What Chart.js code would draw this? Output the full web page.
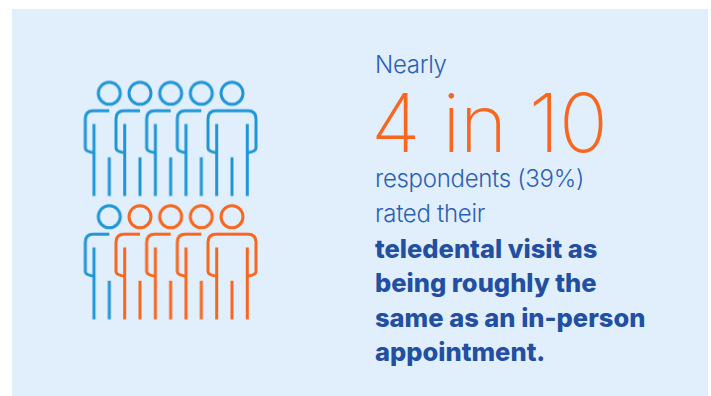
<!DOCTYPE html>
<html>
<head>
<meta charset="utf-8">
<script src="https://cdn.jsdelivr.net/npm/chart.js@4"></script>
<style>
  html, body { margin: 0; padding: 0; background: #fff; }
  #panel { position: absolute; left: 12px; top: 9px; width: 696px; height: 387px; background: #e0effb; }
  #icons { position: absolute; left: 70px; top: 70px; width: 200px; height: 260px; }
  .line { position: absolute; left: 375px; white-space: nowrap; font-family: "Inter", sans-serif; }
  .light { font-size: 24px; font-weight: 300; line-height: 24px; color: #2f5fb3; letter-spacing: -0.3px; }
  .big { font-size: 81px; font-weight: 200; line-height: 62px; color: #f7671f; letter-spacing: -0.6px; margin-left: -4px; }
  .bold { font-size: 25.5px; font-weight: 800; line-height: 28px; color: #234fa2; letter-spacing: 0; }
</style>
</head>
<body>
<div id="panel"></div>
<div class="line light" style="top:53px">Nearly</div>
<div class="line big" style="top:92px">4 in 10</div>
<div class="line light" style="top:167px">respondents (39%)</div>
<div class="line light" style="top:202px">rated their</div>
<div class="line bold" style="top:235px">teledental visit as</div>
<div class="line bold" style="top:269px">being roughly the</div>
<div class="line bold" style="top:304px">same as an in-person</div>
<div class="line bold" style="top:338px">appointment.</div>
<div id="icons"><canvas id="chart"></canvas></div>
<script>
// Each person sits on a column (1-5) and a row (2 = top, 1 = bottom)
const otherCols = [1, 2, 3, 4, 5, 1]
const otherRows = [2, 2, 2, 2, 2, 1]
const sameCols = [2, 3, 4, 5]
const sameRows = [1, 1, 1, 1]

const BLUE = "#2196d6"
const ORANGE = "#f7671f"
const LAST_COL = 5

// Person glyph, drawn around the middle of a small canvas.
// People overlap, so only the last in a row gets the right-hand side.
function personIcon(color, full) {
  const c = document.createElement("canvas")
  c.width = 64
  c.height = 124
  const g = c.getContext("2d")
  g.translate(32, 62)
  g.strokeStyle = color
  g.lineWidth = 3
  g.lineCap = "butt"

  g.beginPath()
  g.arc(0, -45.2, 11, 0, Math.PI * 2)
  g.stroke()

  const shoulder = -27.8, armEnd = 9.5, armTuck = 14.2, edge = 24, inner = 15.3, r = 8

  g.beginPath()
  g.moveTo(-inner, armTuck)
  g.quadraticCurveTo(-edge, armTuck - 1, -edge, armEnd)
  g.lineTo(-edge, shoulder + r)
  g.quadraticCurveTo(-edge, shoulder, -edge + r, shoulder)
  if (full) {
    g.lineTo(edge - r, shoulder)
    g.quadraticCurveTo(edge, shoulder, edge, shoulder + r)
    g.lineTo(edge, armEnd)
    g.quadraticCurveTo(edge, armTuck - 1, inner, armTuck)
  } else {
    g.lineTo(0, shoulder)
  }
  g.stroke()

  const legs = [[-inner, -14.5], [0, 18.8]]
  if (full) legs.push([inner, -14.5])
  for (const [x, top] of legs) {
    g.beginPath()
    g.moveTo(x, top)
    g.lineTo(x, 57.5)
    g.stroke()
  }
  return c
}

const icons = {
  [BLUE]: { half: personIcon(BLUE, false), full: personIcon(BLUE, true) },
  [ORANGE]: { half: personIcon(ORANGE, false), full: personIcon(ORANGE, true) },
}

function toPoints(cols, rows) {
  return cols.map((x, i) => ({ x, y: rows[i] }))
}

function dataset(label, cols, rows, color) {
  return {
    label,
    data: toPoints(cols, rows),
    pointStyle: ctx => (ctx.raw.x === LAST_COL ? icons[color].full : icons[color].half),
    pointRadius: 32,
    clip: false,
  }
}

new Chart(document.getElementById("chart"), {
  type: "scatter",
  data: {
    datasets: [
      dataset("Other respondents", otherCols, otherRows, BLUE),
      dataset("Roughly the same", sameCols, sameRows, ORANGE),
    ],
  },
  options: {
    responsive: true,
    maintainAspectRatio: false,
    animation: false,
    layout: { padding: 0, autoPadding: false },
    plugins: { legend: { display: false }, tooltip: { enabled: false } },
    scales: {
      x: { display: false, min: -0.281, max: 6.24 },
      y: { display: false, min: 0.448, max: 2.555 },
    },
  },
})
</script>
</body>
</html>
